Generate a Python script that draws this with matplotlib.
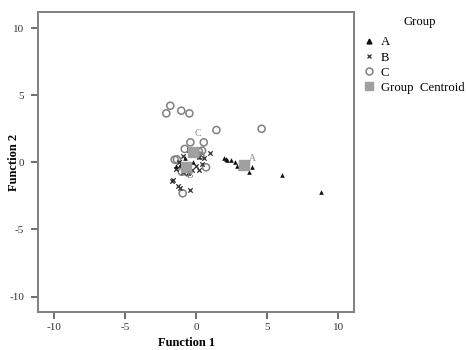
import matplotlib
matplotlib.use("Agg")
import matplotlib.pyplot as plt
from matplotlib.lines import Line2D

plt.rcParams['font.family'] = ['Liberation Serif', 'DejaVu Serif']
plt.rcParams['axes.unicode_minus'] = False

# Group A (triangles)
a_x = [1.95, 2.1, 2.2, 2.45, 2.75, 2.9, 3.1, 3.3, 3.5, 3.7, 3.95, 6.05, 8.8, -0.8, -1.1, -0.4, -0.2, -1.4]
a_y = [0.3, 0.25, 0.2, 0.15, 0.05, -0.3, -0.45, -0.3, -0.1, -0.7, -0.33, -0.95, -2.19, 0.3, -0.2, 0.6, 0.0, -0.3]
# Group B (x)
b_x = [0.96, 0.54, 0.18, -0.4, -1.15, -1.3, -1.6, -1.7, -0.9, -0.6, -0.3, -1.2, -0.9, -0.5, 0.2, 0.4, -0.1, -1.4, -0.8, 0.0]
b_y = [0.72, 0.3, -0.57, -2.06, -1.94, -1.75, -1.3, -1.4, -0.7, -0.8, -0.6, 0.0, 0.5, 0.9, 0.4, -0.1, 1.0, -0.5, -0.2, -0.3]
# Group C (circles)
c_x = [-1.81, -2.09, -1.04, -0.47, 1.43, 4.6, -0.4, 0.54, 0.42, -1.34, 0.7, -0.94, -1.0, -0.6, -1.5, 0.2, -0.8, 0.3]
c_y = [4.22, 3.65, 3.85, 3.65, 2.41, 2.5, 1.49, 1.49, 0.87, 0.22, -0.37, -2.31, -0.7, -0.75, 0.2, 0.8, 1.0, 0.5]
# Group centroids
cent_labels = ["A", "B", "C"]
cent_x = [3.35, -0.68, -0.21]
cent_y = [-0.2, -0.37, 0.79]
lab_x = [3.96, -0.4, 0.14]
lab_y = [0.3, -1.0, 2.13]

fig = plt.figure(figsize=(4.66, 3.5), dpi=100)
ax = fig.add_axes([0.0815, 0.1086, 0.6785, 0.857])

ax.scatter(c_x, c_y, marker='o', s=26, facecolors='none', edgecolors='#808080', linewidths=1.1, zorder=3)
ax.scatter(b_x, b_y, marker='x', s=10, color='#303030', linewidths=0.9, zorder=3)
ax.scatter(a_x, a_y, marker='^', s=11, color='#111111', linewidths=0, zorder=3)
ax.scatter(cent_x, cent_y, marker='s', s=42, color='#a0a0a0', zorder=4)
for t, x, y in zip(cent_labels, lab_x, lab_y):
    ax.text(x, y, t, color='#8a8a8a', fontsize=7, ha='center', va='center', zorder=5)

ax.set_xlim(-11.1, 11.1)
ax.set_ylim(-11.15, 11.2)
ax.set_xticks([-10, -5, 0, 5, 10])
ax.set_yticks([-10, -5, 0, 5, 10])
for s in ax.spines.values():
    s.set_color('#808080')
    s.set_linewidth(1.4)
ax.tick_params(direction='out', length=5, width=1.2, color='#555555', labelsize=8,
               labelcolor='#333333', pad=5)
ax.tick_params(axis='x', pad=3)
ax.set_xlabel('Function 1', fontsize=9, fontweight='bold')
ax.set_ylabel('Function 2', fontsize=9, fontweight='bold')
ax.xaxis.set_label_coords(0.47, -0.085, transform=ax.transAxes)
ax.yaxis.set_label_coords(-0.058, 0.5, transform=ax.transAxes)

fig.text(0.901, 0.937, 'Group', fontsize=9.2, ha='center', va='center')

handles = [
    Line2D([], [], marker='^', linestyle='none', color='#111111', markersize=3.5),
    Line2D([], [], marker='x', linestyle='none', color='#303030', markersize=3.5, markeredgewidth=0.9),
    Line2D([], [], marker='o', linestyle='none', markerfacecolor='none', markeredgecolor='#808080', markersize=5, markeredgewidth=1.1),
    Line2D([], [], marker='s', linestyle='none', color='#a0a0a0', markersize=6),
]
leg = fig.legend(handles, ['A', 'B', 'C', 'Group  Centroid'], loc='upper left',
                 bbox_to_anchor=(0.765, 0.918), frameon=False,
                 fontsize=9.2, handlelength=0.8, handletextpad=0.5,
                 labelspacing=0.25, borderaxespad=0.2)

fig.savefig('out.png', dpi=100, facecolor='white')
